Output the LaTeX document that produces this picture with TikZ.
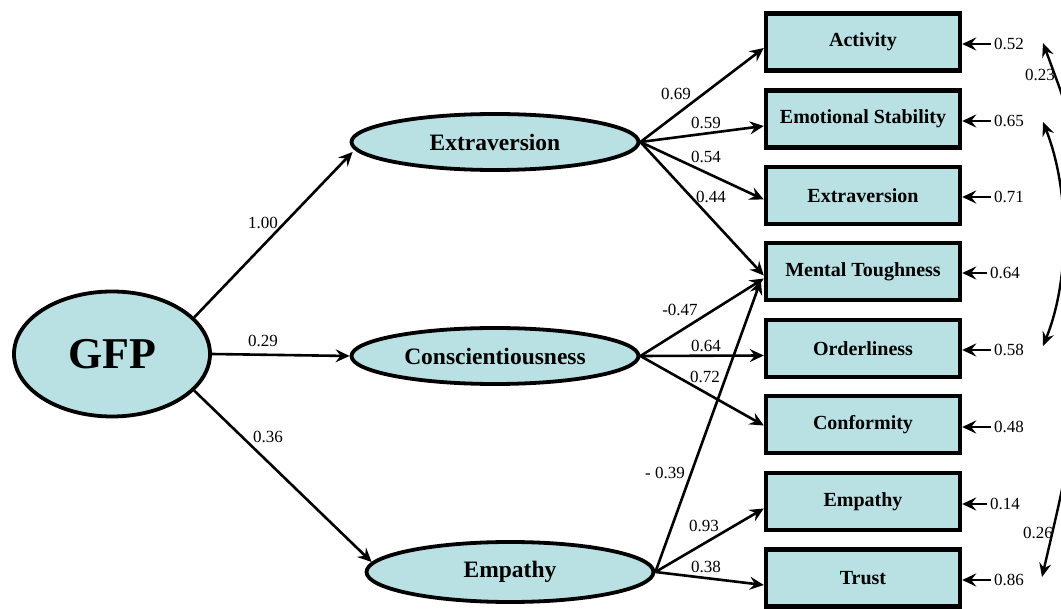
\documentclass[tikz,border=0pt]{standalone}
\usepackage{fontspec}
\setmainfont{Liberation Serif}
\usetikzlibrary{shapes.geometric,arrows.meta,calc}
\definecolor{fillc}{RGB}{185,224,227}
\begin{document}
\begin{tikzpicture}[x=1pt,y=-1pt,
  lat/.style={ellipse, draw, line width=3.8pt, fill=fillc, inner sep=0pt,
    font=\bfseries\fontsize{23.5}{28}\selectfont, minimum width=287pt, minimum height=56pt},
  obs/.style={rectangle, draw, line width=4.4pt, fill=fillc, inner sep=0pt,
    font=\bfseries\fontsize{20}{24}\selectfont, minimum width=194pt, minimum height=57pt},
  num/.style={font=\fontsize{17}{20}\selectfont, inner sep=0pt},
  err/.style={font=\fontsize{17}{20}\selectfont, inner ysep=0pt, inner xsep=3pt},
  arr/.style={line width=2.6pt, -{Stealth[length=14pt,width=13pt,inset=5pt]}},
  cov/.style={line width=2.4pt, -{Stealth[length=14pt,width=12pt,inset=5pt]}}]
\useasboundingbox (0,0) rectangle (1061,609);
\clip (0,0) rectangle (1061,609);

% latent variables
\node[lat, minimum width=196pt, minimum height=125pt, font=\bfseries\fontsize{44}{50}\selectfont] (gfp) at (112,354) {GFP};
\node[lat] (ext) at (495,142) {Extraversion};
\node[lat] (cons) at (495,356) {Conscientiousness};
\node[lat, minimum height=60pt] (emp) at (510,572) {Empathy};

% observed variables
\node[obs] (act) at (863,42) {Activity};
\node[obs] (emo) at (863,119) {Emotional Stability};
\node[obs] (extb) at (863,195.5) {Extraversion};
\node[obs] (mt) at (863,271.5) {Mental Toughness};
\node[obs] (ord) at (863,348.5) {Orderliness};
\node[obs] (conf) at (863,424.5) {Conformity};
\node[obs] (empb) at (863,501.5) {Empathy};
\node[obs] (trust) at (863,578) {Trust};

% structural paths
\draw[arr] (gfp.24) -- ($(ext.west)+(3,10)$);
\draw[arr] (gfp.east) -- (cons.west);
\draw[arr] (gfp.-24) -- ($(emp.west)+(7,-10)$);

\draw[arr] (ext.east) -- ($(act.west)+(0,6)$);
\draw[arr] (ext.east) -- ($(emo.west)+(0,7)$);
\draw[arr] (ext.east) -- ($(extb.west)+(0,4)$);
\draw[arr] (ext.east) -- ($(mt.west)+(0,4)$);

\draw[arr] (cons.east) -- ($(mt.west)+(0,7)$);
\draw[arr] (cons.east) -- ($(ord.west)+(0,7)$);
\draw[arr] (cons.east) -- ($(conf.west)+(0,1)$);

\draw[arr] (emp.east) -- ($(mt.west)+(-3,9)$);
\draw[arr] (emp.east) -- ($(empb.west)+(0,7)$);
\draw[arr] (emp.east) -- ($(trust.west)+(0,7)$);

% loadings
\node[num] (l1) at (263,223) {1.00};
\node[num] (l2) at (263,341) {0.29};
\node[num] (l3) at (268,437) {0.36};
\node[num] (l4) at (676,94) {0.69};
\node[num] (l5) at (706,123) {0.59};
\node[num] (l6) at (706,157) {0.54};
\node[num] (l7) at (711,197) {0.44};
\node[num] (l8) at (680,310) {-0.47};
\node[num] (l9) at (706,346) {0.64};
\node[num] (l10) at (705,377) {0.72};
\node[num] (l11) at (665,473) {- 0.39};
\node[num] (l12) at (704,526) {0.93};
\node[num] (l13) at (706,567) {0.38};

% error terms
\node[err, anchor=west] (e1) at (991,44) {0.52};
\node[err, anchor=west] (e2) at (991,121) {0.65};
\node[err, anchor=west] (e3) at (991,197) {0.71};
\node[err, anchor=west] (e4) at (987,273) {0.64};
\node[err, anchor=west] (e5) at (991,350) {0.58};
\node[err, anchor=west] (e6) at (991,427) {0.48};
\node[err, anchor=west] (e7) at (987,504) {0.14};
\node[err, anchor=west] (e8) at (991,580) {0.86};
\foreach \e/\b in {e1/act,e2/emo,e3/extb,e4/mt,e5/ord,e6/conf,e7/empb,e8/trust}
  \draw[arr] (\e.west) -- (\e.west -| \b.east);

% covariances
\coordinate (ca0) at (1080,170);
\coordinate (ca1) at (1043,43);
\draw[cov] (ca0) .. controls (1068,110) .. (ca1);
\node[num] (c1) at (1040,75) {0.23};

\coordinate (cb0) at (1043,122);
\coordinate (cb1) at (1043,346);
\draw[cov, {Stealth[length=14pt,width=12pt,inset=5pt]}-{Stealth[length=14pt,width=12pt,inset=5pt]}] (cb0) .. controls (1070,190) and (1070,280) .. (cb1);

\coordinate (cc0) at (1072,440);
\coordinate (cc1) at (1042,577);
\draw[cov] (cc0) .. controls (1060,500) .. (cc1);
\node[num] (c2) at (1038,533) {0.26};
\end{tikzpicture}
\end{document}
